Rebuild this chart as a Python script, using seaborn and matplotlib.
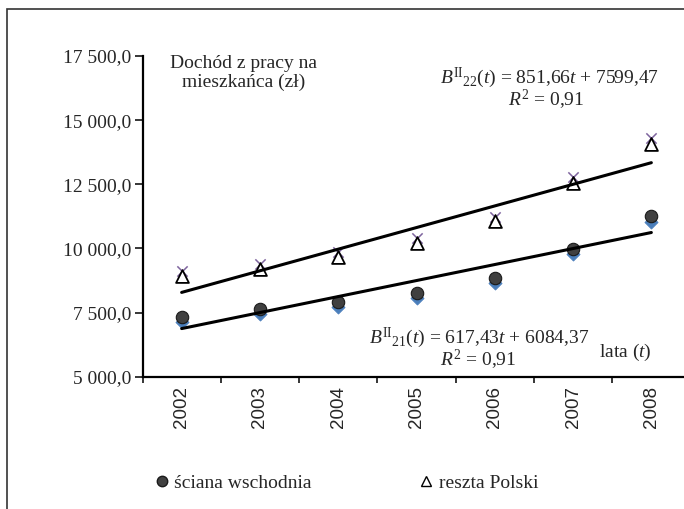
import numpy as np
import matplotlib
matplotlib.use("Agg")
import matplotlib.pyplot as plt
import seaborn as sns
from matplotlib.lines import Line2D
from matplotlib.patches import Rectangle
from matplotlib.ticker import FuncFormatter, FixedLocator

# -------------------------------------------------------------
# dane
lata = ["2002", "2003", "2004", "2005", "2006", "2007", "2008"]
sciana = [7316, 7640, 7924, 8255, 8850, 9975, 11275]           # ściana wschodnia (kółka)
sciana_ukryta = [7150, 7435, 7725, 8085, 8665, 9775, 11035]    # niebieskie romby
reszta = [8925, 9190, 9650, 10230, 11070, 12560, 14070]        # reszta Polski (trójkąty)
reszta_ukryta = [9130, 9375, 9850, 10390, 11234, 12765, 14300] # fioletowe krzyżyki
pozycje = np.arange(len(lata))

# -------------------------------------------------------------
sns.set_style("white")
plt.rcParams["font.family"] = ["Liberation Serif", "DejaVu Serif"]
plt.rcParams["mathtext.fontset"] = "custom"
plt.rcParams["mathtext.rm"] = "Liberation Serif"
plt.rcParams["mathtext.it"] = "Liberation Serif:italic"

W, H = 684, 509
fig = plt.figure(figsize=(W / 100, H / 100), dpi=100)
fx = lambda px: px / W
fy = lambda py: 1 - py / H

ax = fig.add_axes([fx(142.5), fy(376.7), 548 / W, 320.7 / H])

# punkty
sns.scatterplot(x=pozycje, y=sciana_ukryta, marker="D", s=45, color="#4A7EBB",
                edgecolor="#4A7EBB", legend=False, ax=ax)
sns.scatterplot(x=pozycje, y=sciana, marker="o", s=80, color="#404040",
                edgecolor="#1a1a1a", linewidth=0.8, legend=False, ax=ax)
sns.scatterplot(x=pozycje, y=reszta_ukryta, marker="x", s=55, color="#7E649E",
                linewidth=1.1, legend=False, ax=ax)
sns.scatterplot(x=pozycje, y=reszta, marker="^", s=85, color="white",
                edgecolor="black", linewidth=1.3, legend=False, ax=ax)

# linie trendu
for seria in (sciana, reszta):
    sns.regplot(x=pozycje, y=seria, scatter=False, ci=None, color="black",
                line_kws=dict(lw=2.2), ax=ax)

# osie
ax.set_xlim(-0.5, 6.5)
ax.set_ylim(5000, 17500)
ax.set_yticks([5000, 7500, 10000, 12500, 15000, 17500])
ax.yaxis.set_major_formatter(FuncFormatter(
    lambda v, p: f"{v:,.1f}".replace(",", " ").replace(".", ",")))
ax.xaxis.set_major_locator(FixedLocator(np.arange(-0.5, 7, 1)))
ax.xaxis.set_minor_locator(FixedLocator(pozycje))
ax.set_xticklabels([])
ax.set_xticklabels(lata, minor=True, rotation=90, fontfamily="Liberation Sans")
ax.tick_params(axis="x", which="major", direction="out", length=4, width=1.1,
               bottom=True, color="black")
ax.tick_params(axis="x", which="minor", length=0, pad=7, labelsize=13.5)
ax.tick_params(axis="y", direction="out", length=6, width=1.1, left=True,
               color="black", labelsize=14, pad=2)
ax.set_xlabel("")
ax.set_ylabel("")
for s in ("top", "right"):
    ax.spines[s].set_visible(False)
for s in ("left", "bottom"):
    ax.spines[s].set_color("black")
    ax.spines[s].set_linewidth(1.6)
ax.set_facecolor("none")

# opisy
fig.text(fx(244), fy(73), "Dochód z pracy na\nmieszkańca (zł)", ha="center",
         va="center", fontsize=14, linespacing=1.15)
fig.text(fx(659), fy(78), r"$B^{\mathrm{II}}{}_{22}(t)$ = 851,66$t$ + 7599,47",
         ha="right", va="center", fontsize=14)
fig.text(fx(546), fy(100), r"$R^{2}$ = 0,91", ha="center", va="center", fontsize=14)
fig.text(fx(589), fy(338), r"$B^{\mathrm{II}}{}_{21}(t)$ = 617,43$t$ + 6084,37",
         ha="right", va="center", fontsize=14)
fig.text(fx(478), fy(360), r"$R^{2}$ = 0,91", ha="center", va="center", fontsize=14)
fig.text(fx(625), fy(352), r"lata ($t$)", ha="center", va="center", fontsize=14)

# legenda
uchwyty = [
    Line2D([], [], ls="none", marker="o", ms=7.5, mfc="#404040", mec="#1a1a1a"),
    Line2D([], [], ls="none", marker="^", ms=7.5, mfc="white", mec="black", mew=1.0),
]
fig.legend(uchwyty, ["ściana wschodnia", "reszta Polski"], loc="center left",
           bbox_to_anchor=(fx(144), fy(483)), ncol=2, frameon=False, fontsize=14,
           handlelength=0.8, handletextpad=0.25, columnspacing=5.5, borderpad=0)

# ramka wykresu
fig.patches.append(Rectangle((fx(7), -0.05), 1.1, fy(9) + 0.05,
                             transform=fig.transFigure, fill=False,
                             edgecolor="#333333", lw=1.2))

fig.savefig("out.png", dpi=100)
